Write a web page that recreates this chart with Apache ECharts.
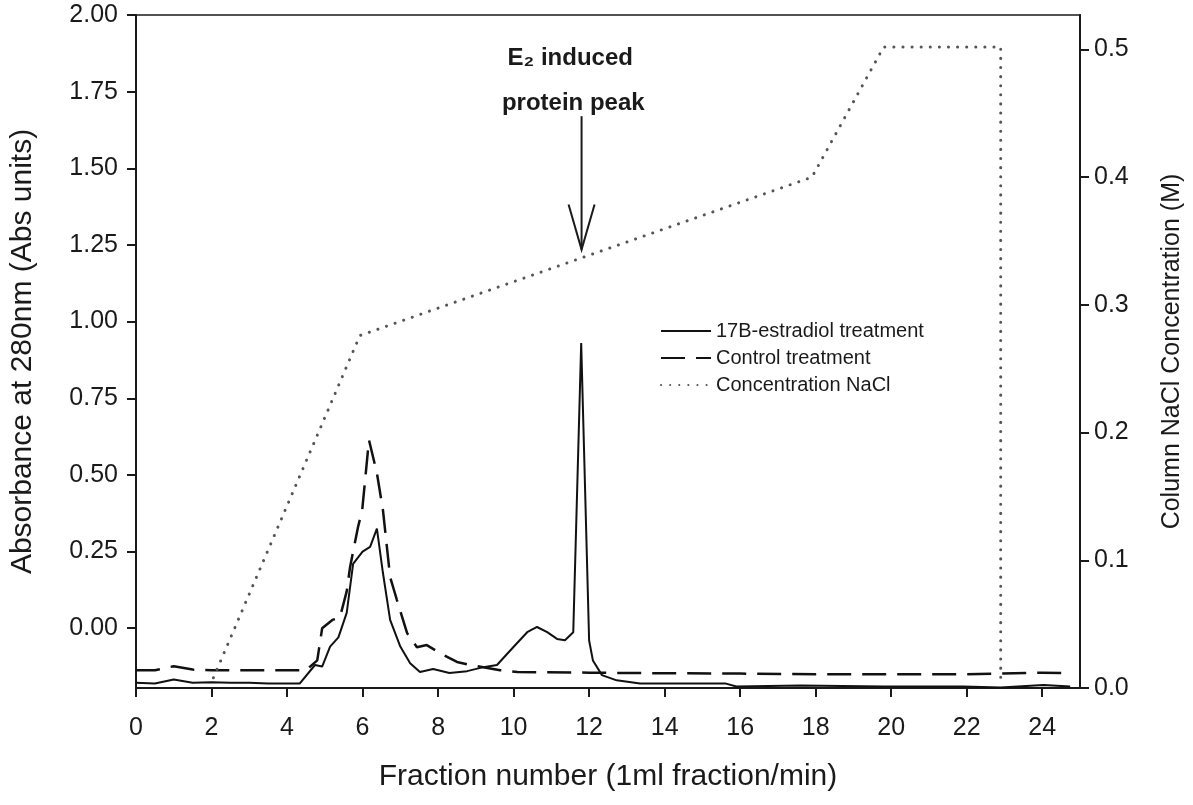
<!DOCTYPE html>
<html>
<head>
<meta charset="utf-8">
<script src="https://cdn.jsdelivr.net/npm/echarts@6/dist/echarts.min.js"></script>
<style>
  html, body { margin: 0; padding: 0; background: #fff; }
  #chart { width: 1193px; height: 805px; }
</style>
</head>
<body>
<div id="chart"></div>
<script>
// fraction number vs absorbance
const estradiolData = [
    [0, -0.178], [0.5, -0.18], [1.0, -0.167], [1.5, -0.178], [2, -0.176], [2.5, -0.178],
    [3, -0.178], [3.5, -0.18], [4, -0.18], [4.34, -0.18], [4.74, -0.12], [4.93, -0.125],
    [5.14, -0.06], [5.36, -0.03], [5.58, 0.05], [5.75, 0.21], [6.0, 0.25], [6.2, 0.265],
    [6.38, 0.325], [6.54, 0.18], [6.73, 0.027], [7.0, -0.06], [7.26, -0.114], [7.52, -0.143],
    [7.87, -0.133], [8.3, -0.146], [8.77, -0.14], [9.2, -0.127], [9.56, -0.12], [9.99, -0.062],
    [10.36, -0.013], [10.62, 0.004], [10.89, -0.013], [11.15, -0.035], [11.36, -0.039],
    [11.58, -0.013], [11.79, 0.93], [12.0, -0.04], [12.1, -0.105], [12.34, -0.153],
    [12.73, -0.17], [13.35, -0.18], [15.6, -0.18], [15.9, -0.19], [17.6, -0.187],
    [19.8, -0.19], [21.9, -0.19], [22.9, -0.193], [24.03, -0.185], [24.74, -0.19]
]
const controlData = [
    [0, -0.137], [0.5, -0.137], [1.0, -0.124], [1.5, -0.135], [2, -0.137], [3, -0.137],
    [4, -0.137], [4.5, -0.137], [4.8, -0.105], [4.93, 0.0], [5.2, 0.027], [5.4, 0.035],
    [5.58, 0.12], [5.67, 0.2], [5.88, 0.33], [5.99, 0.385], [6.17, 0.614], [6.38, 0.506],
    [6.54, 0.385], [6.73, 0.167], [6.91, 0.092], [7.18, -0.016], [7.44, -0.062], [7.7, -0.055],
    [8.05, -0.081], [8.5, -0.11], [8.85, -0.12], [9.2, -0.127], [9.64, -0.137], [10.1, -0.143],
    [12, -0.145], [14, -0.147], [16, -0.148], [18, -0.15], [20, -0.15], [22, -0.15],
    [24, -0.145], [24.74, -0.147]
]
// NaCl gradient (right axis, M)
const naclData = [
    [2.05, 0.008], [5.93, 0.276], [17.9, 0.40], [19.8, 0.502], [22.9, 0.502], [22.9, 0.006]
]

const fractionTicks = [0, 2, 4, 6, 8, 10, 12, 14, 16, 18, 20, 22, 24]
const absTicks = [0, 0.25, 0.5, 0.75, 1.0, 1.25, 1.5, 1.75, 2.0]
const naclTicks = [0, 0.1, 0.2, 0.3, 0.4, 0.5]

const seriesNames = ['17B-estradiol treatment', 'Control treatment', 'Concentration NaCl']

// annotation (arrow to the E2 peak), in data units
const arrowX = 11.8
const arrowTop = 1.67
const arrowTip = 1.235

let chart = echarts.init(document.getElementById('chart'))
const font = 'Liberation Sans, Arial, sans-serif'
const ink = '#1a1a1a'

let axisCommon = {
    axisLine: { show: true, onZero: false, lineStyle: { color: ink, width: 2 } },
    axisTick: { show: true, inside: false, length: 9, lineStyle: { color: ink, width: 2 } },
    splitLine: { show: false },
    nameTextStyle: { fontFamily: font, color: ink },
}

chart.setOption({
    animation: false,
    backgroundColor: '#fff',
    grid: {
        left: 136, top: 15, right: 113, bottom: 117,
        show: true, borderColor: ink, borderWidth: 1.5,
    },
    legend: {
        orient: 'vertical',
        left: 655,
        top: 316,
        itemWidth: 50,
        itemHeight: 12,
        itemGap: 7,
        itemStyle: { opacity: 0 },
        textStyle: { fontFamily: font, fontSize: 20, color: ink },
        data: seriesNames,
    },
    xAxis: {
        ...axisCommon,
        type: 'value',
        min: 0,
        max: 25,
        name: 'Fraction number (1ml fraction/min)',
        nameLocation: 'middle',
        nameGap: 74,
        nameTextStyle: { fontFamily: font, fontSize: 30, color: ink },
        axisTick: { ...axisCommon.axisTick, customValues: fractionTicks },
        axisLabel: {
            customValues: fractionTicks,
            margin: 28,
            fontFamily: font, fontSize: 25, color: ink,
        },
    },
    yAxis: [
        {
            ...axisCommon,
            type: 'value',
            min: -0.195,
            max: 2,
            name: 'Absorbance at 280nm (Abs units)',
            nameLocation: 'middle',
            nameGap: 98,
            nameTextStyle: { fontFamily: font, fontSize: 30, color: ink },
            axisTick: { ...axisCommon.axisTick, customValues: absTicks },
            axisLabel: {
                customValues: absTicks,
                margin: 18,
                formatter: (v) => v.toFixed(2),
                fontFamily: font, fontSize: 25, color: ink,
            },
        },
        {
            ...axisCommon,
            type: 'value',
            position: 'right',
            min: 0,
            max: 0.527,
            name: 'Column NaCl Concentration (M)',
            nameLocation: 'middle',
            nameGap: 80,
            nameTextStyle: { fontFamily: font, fontSize: 25, color: ink },
            axisTick: { ...axisCommon.axisTick, customValues: naclTicks },
            axisLabel: {
                customValues: naclTicks,
                margin: 14,
                formatter: (v) => v.toFixed(1),
                fontFamily: font, fontSize: 25, color: ink,
            },
        },
    ],
    series: [
        {
            name: seriesNames[0],
            type: 'line',
            data: estradiolData,
            symbol: 'none',
            lineStyle: { color: '#111', width: 2 },
            itemStyle: { color: '#111' },
        },
        {
            name: seriesNames[1],
            type: 'line',
            data: controlData,
            symbol: 'none',
            lineStyle: { color: '#111', width: 2.5, type: [24, 11] },
            itemStyle: { color: '#111' },
        },
        {
            name: seriesNames[2],
            type: 'line',
            yAxisIndex: 1,
            data: naclData,
            symbol: 'none',
            lineStyle: { color: '#555', width: 3, type: [0.1, 9], cap: 'round' },
            itemStyle: { color: '#555' },
        },
    ],
})

// arrow + caption placed from data coordinates
let arrowStart = chart.convertToPixel({ xAxisIndex: 0, yAxisIndex: 0 }, [arrowX, arrowTop])
let arrowEnd = chart.convertToPixel({ xAxisIndex: 0, yAxisIndex: 0 }, [arrowX, arrowTip])
let cap1 = chart.convertToPixel({ xAxisIndex: 0, yAxisIndex: 0 }, [11.5, 1.86])
let cap2 = chart.convertToPixel({ xAxisIndex: 0, yAxisIndex: 0 }, [11.58, 1.712])

chart.setOption({
    graphic: [
        {
            type: 'line',
            shape: { x1: arrowStart[0], y1: arrowStart[1], x2: arrowEnd[0], y2: arrowEnd[1] },
            style: { stroke: ink, lineWidth: 2 },
        },
        {
            type: 'polyline',
            shape: { points: [[arrowEnd[0] - 13, arrowEnd[1] - 45], arrowEnd, [arrowEnd[0] + 13, arrowEnd[1] - 45]] },
            style: { stroke: ink, lineWidth: 2, fill: null },
        },
        {
            type: 'text',
            x: cap1[0], y: cap1[1],
            style: {
                text: 'E₂ induced',
                font: 'bold 24px ' + font,
                fill: ink,
                align: 'center',
                verticalAlign: 'middle',
            },
        },
        {
            type: 'text',
            x: cap2[0], y: cap2[1],
            style: {
                text: 'protein peak',
                font: 'bold 24px ' + font,
                fill: ink,
                align: 'center',
                verticalAlign: 'middle',
            },
        },
    ],
})
</script>
</body>
</html>
